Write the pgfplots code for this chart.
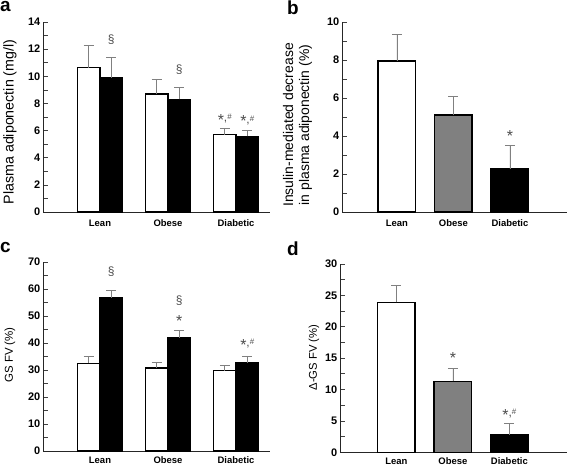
\documentclass[border=0pt]{standalone}
\usepackage{pgfplots}
\pgfplotsset{compat=1.18}
\usepackage{fontspec}
\setmainfont{Liberation Sans}
\tikzset{ann/.style={font=\fontsize{12}{12}\selectfont, text=black!70, inner sep=0pt}}
\pgfplotsset{
  panel/.style={
    scale only axis,
    axis x line=bottom, axis y line=left,
    axis line style={-, line width=0.9pt, black!85},
    ymin=0,
    tick align=inside,
    major tick length=5bp, minor tick length=5bp,
    minor y tick num=1,
    every tick/.style={black!75, line width=0.7pt},
    xtick={1,2,3}, xticklabels={Lean,Obese,Diabetic},
    x tick style={draw=none},
    yticklabel style={font=\fontsize{11}{12}\selectfont\bfseries, inner sep=0pt, xshift=-2.5bp},
    xticklabel style={font=\fontsize{9.5}{10}\selectfont\bfseries, inner sep=0pt, text depth=0pt, text height=7bp, anchor=base, yshift=-10bp},
    /pgf/number format/assume math mode=true,
    anchor=south west,
    ybar,
    clip=false,
    every axis plot/.append style={draw=black, line width=1.5pt,
      error bars/y dir=plus, error bars/y explicit,
      error bars/error bar style={gray, line width=0.8pt},
      error bars/error mark options={rotate=90, mark size=5bp, gray, line width=0.8pt}},
  },
}
\newcommand{\st}{{\fontsize{16}{16}\selectfont\raisebox{-3.5bp}{*}}}
\newcommand{\sh}{\st,\raisebox{2bp}{\fontsize{8}{8}\selectfont\#}}
\begin{document}
\begin{tikzpicture}
\useasboundingbox (0,0) rectangle (567bp,465bp);
% panel a
\begin{axis}[panel, at={(43bp,253bp)}, width=227bp, height=190bp,
  ymax=14, ytick={0,2,...,14}, xmin=0.162, xmax=3.5, bar width=22.5bp]
\addplot[fill=white, bar shift=-11.25bp] coordinates {(1,10.63) +- (0,1.62) (2,8.69) +- (0,1.09) (3,5.7) +- (0,0.47)};
\addplot[fill=black, bar shift=11.25bp] coordinates {(1,9.9) +- (0,1.47) (2,8.3) +- (0,0.89) (3,5.58) +- (0,0.46)};
\node[ann] at (axis cs:1,12.7) [xshift=11.25bp] {§};
\node[ann] at (axis cs:2,10.5) [xshift=11.25bp] {§};
\node[ann] at (axis cs:3,6.8) [xshift=-11.25bp] {\sh};
\node[ann] at (axis cs:3,6.7) [xshift=11.25bp] {\sh};
\end{axis}
% panel b
\begin{axis}[panel, at={(342bp,253bp)}, width=225bp, height=190bp,
  ymax=10, ytick={0,2,...,10}, xmin=0.027, xmax=4.01, bar width=37.5bp]
\addplot[fill=white, bar shift=0pt] coordinates {(1,7.95) +- (0,1.4)};
\addplot[fill=gray, bar shift=0pt] coordinates {(2,5.1) +- (0,1.0)};
\addplot[fill=black, bar shift=0pt] coordinates {(3,2.25) +- (0,1.27)};
\node[ann] at (axis cs:3,4.0) {\st};
\end{axis}
% panel c
\begin{axis}[panel, at={(43bp,14bp)}, width=227bp, height=189bp,
  ymax=70, ytick={0,10,...,70}, xmin=0.162, xmax=3.5, bar width=22.5bp,
  xticklabel style={yshift=2.5bp}]
\addplot[fill=white, bar shift=-11.25bp] coordinates {(1,32.5) +- (0,2.5) (2,30.7) +- (0,2.0) (3,29.8) +- (0,1.8)};
\addplot[fill=black, bar shift=11.25bp] coordinates {(1,56.7) +- (0,2.8) (2,42.0) +- (0,2.7) (3,32.6) +- (0,2.6)};
\node[ann] at (axis cs:1,66.4) [xshift=11.25bp] {§};
\node[ann] at (axis cs:2,55.7) [xshift=11.25bp] {§};
\node[ann] at (axis cs:2,48.0) [xshift=11.25bp] {\st};
\node[ann] at (axis cs:3,39.3) [xshift=11.25bp] {\sh};
\end{axis}
% panel d
\begin{axis}[panel, at={(340bp,12.7bp)}, width=227bp, height=188.3bp,
  ymax=30, ytick={0,5,...,30}, xmin=0.0, xmax=4.02, bar width=37.5bp,
  xticklabel style={yshift=2.5bp}]
\addplot[fill=white, bar shift=0pt] coordinates {(1,23.9) +- (0,2.7)};
\addplot[fill=gray, bar shift=0pt] coordinates {(2,11.3) +- (0,2.1)};
\addplot[fill=black, bar shift=0pt] coordinates {(3,2.8) +- (0,1.8)};
\node[ann] at (axis cs:2,15.0) {\st};
\node[ann] at (axis cs:3,6.0) {\sh};
\end{axis}
% labels
\node[rotate=90, font=\fontsize{14.3}{16}\selectfont] at (10bp,343bp) {Plasma adiponectin (mg/l)};
\node[rotate=90, font=\fontsize{14}{16}\selectfont, align=center] at (297.5bp,340bp) {Insulin-mediated decrease\\in plasma adiponectin (\%)};
\node[rotate=90, font=\fontsize{11.5}{14}\selectfont] at (10bp,110bp) {GS FV (\%)};
\node[rotate=90, font=\fontsize{11.3}{14}\selectfont] at (314bp,107.5bp) {Δ-GS FV (\%)};
\node[font=\fontsize{19}{20}\selectfont\bfseries, anchor=north west, inner sep=0pt] at (0bp,464bp) {a};
\node[font=\fontsize{19}{20}\selectfont\bfseries, anchor=north west, inner sep=0pt] at (287bp,464bp) {b};
\node[font=\fontsize{19}{20}\selectfont\bfseries, anchor=north west, inner sep=0pt] at (0bp,223bp) {c};
\node[font=\fontsize{19}{20}\selectfont\bfseries, anchor=north west, inner sep=0pt] at (287bp,223bp) {d};
\end{tikzpicture}
\end{document}
